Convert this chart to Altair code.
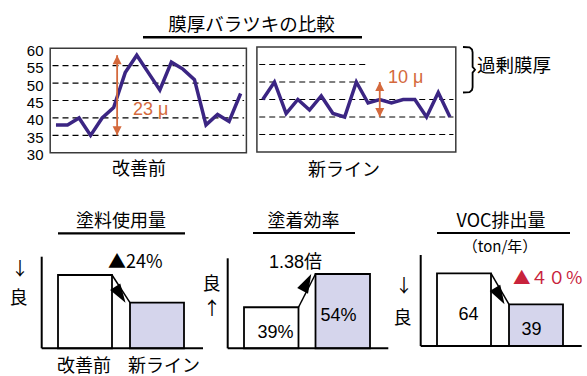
import math
import altair as alt
import pandas as pd

# ---------------- data ----------------
sample_idx = list(range(17))
thickness_before = [38, 38, 40, 35, 40, 43, 53, 58, 53, 48, 56, 54, 51, 38, 41, 39, 47]
thickness_after = [45, 50, 41, 45, 42, 46, 41, 40, 50, 44, 45, 44, 45, 45, 40, 47, 40]
y_tick_values = [30, 35, 40, 45, 50, 55, 60]
grid_values = [35, 40, 45, 50, 55]
panel_names = ["改善前", "新ライン"]
spread_before = [35, 58]   # 23 μ
spread_after = [40, 50]    # 10 μ
spread_labels = ["23 μ", "10 μ"]
excess_band = [47, 60]     # 過剰膜厚

bar_categories = ["改善前", "新ライン"]
paint_usage = [100, 76]            # ▲24%
transfer_efficiency = [39, 54]     # %
voc_emission = [64, 39]            # ton/年
efficiency_labels = ["39%", "54%"]
voc_labels = ["64", "39"]

# ---------------- styles ----------------
ORANGE = "#d4693c"
PURPLE = "#3b2583"
LAV = "#d5d5ec"
RED = "#c8233c"
JP = "Noto Sans CJK JP"
LAT = "Liberation Sans, Noto Sans CJK JP"
UP_HEAD = "M0,0L-1,2L1,2Z"
DOWN_HEAD = "M0,0L-1,-2L1,-2Z"
BAR_HEAD = "M0,0L-0.8,2.5L0.8,2.5Z"

layers = []


def text_layer(t, x, y, size=18, font=JP, color="black", align="center"):
    return alt.Chart(pd.DataFrame({"t": [t]})).mark_text(
        font=font, fontSize=size, color=color, align=align, baseline="middle"
    ).encode(text="t:N", x=alt.value(x), y=alt.value(y))


def rule_layer(x1, x2, y1, y2, width=2.0):
    return alt.Chart(pd.DataFrame({"k": [0]})).mark_rule(
        color="black", strokeWidth=width
    ).encode(x=alt.value(x1), x2=alt.value(x2), y=alt.value(y1), y2=alt.value(y2))


def line_panel(values, xrange, yrange, grid_right_ends, spread, spread_x):
    xs = alt.Scale(domain=[-0.5, 16.5], range=xrange, nice=False, zero=False)
    ys = alt.Scale(domain=[30, 60], range=yrange, nice=False, zero=False)

    def X(f):
        return alt.X(f, scale=xs, axis=None)

    def Y(f):
        return alt.Y(f, scale=ys, axis=None)

    out = []
    frame = pd.DataFrame({"x1": [-0.5], "x2": [16.5],
                          "y1": [y_tick_values[0]], "y2": [y_tick_values[-1]]})
    out.append(alt.Chart(frame).mark_rect(fill="white", stroke="#3a3a3a", strokeWidth=1.5)
               .encode(x=X("x1:Q"), x2="x2:Q", y=Y("y1:Q"), y2="y2:Q"))
    grid = pd.DataFrame({"lev": grid_values, "x1": -0.3, "x2": grid_right_ends})
    out.append(alt.Chart(grid).mark_rule(color="black", strokeWidth=1.2, strokeDash=[6, 4])
               .encode(x=X("x1:Q"), x2="x2:Q", y=Y("lev:Q")))
    line = pd.DataFrame({"i": sample_idx, "v": values})
    out.append(alt.Chart(line).mark_line(color=PURPLE, strokeWidth=3.5)
               .encode(x=X("i:Q"), y=Y("v:Q")))
    arr = pd.DataFrame({"i": [spread_x], "lo": [spread[0]], "hi": [spread[1]]})
    out.append(alt.Chart(arr).mark_rule(color=ORANGE, strokeWidth=1.8)
               .encode(x=X("i:Q"), y=Y("lo:Q"), y2="hi:Q"))
    out.append(alt.Chart(arr).mark_point(shape=UP_HEAD, size=81, filled=True, color=ORANGE, opacity=1)
               .encode(x=X("i:Q"), y=Y("hi:Q")))
    out.append(alt.Chart(arr).mark_point(shape=DOWN_HEAD, size=81, filled=True, color=ORANGE, opacity=1)
               .encode(x=X("i:Q"), y=Y("lo:Q")))
    return out, ys


# ---- top: line panels ----
pa, ysA = line_panel(thickness_before, [50.2, 246.4], [152.8, 48.2],
                     [16.3] * 5, spread_before, 5.3)
pb, ysB = line_panel(thickness_after, [256.9, 455.8], [152, 47],
                     [16.3, 16.3, 16.3, 9.0, 9.0], spread_after, 10)
layers += pa + pb

layers.append(alt.Chart(pd.DataFrame({"v": y_tick_values})).mark_text(
    font=LAT, fontSize=15, align="right", baseline="middle", dy=2.5
).encode(x=alt.value(43.5), y=alt.Y("v:Q", scale=ysA, axis=None), text="v:Q"))

layers.append(text_layer("膜厚バラツキの比較", 251.5, 25, size=18.5))
layers.append(rule_layer(143, 362, 37.3, 37.3, 2.5))
layers.append(text_layer(panel_names[0], 139, 170))
layers.append(text_layer(panel_names[1], 344, 170.5))
layers.append(text_layer(spread_labels[0], 133, 110, font=LAT, color=ORANGE, align="left"))
layers.append(text_layer(spread_labels[1], 388, 77.5, font=LAT, color=ORANGE, align="left"))

# bracket for 過剰膜厚
lo, hi = excess_band
mid = (lo + hi) / 2
bracket = pd.DataFrame({
    "k": list(range(11)),
    "bx": [0, 0.55, 0.75, 0.8, 0.8, 1.0, 0.8, 0.8, 0.75, 0.55, 0],
    "by": [hi, hi - 0.1, hi - 0.7, hi - 1.5, mid + 0.8, mid, mid - 0.8, lo + 1.5, lo + 0.7, lo + 0.1, lo],
})
layers.append(alt.Chart(bracket).mark_line(color="black", strokeWidth=1.8).encode(
    x=alt.X("bx:Q", scale=alt.Scale(domain=[0, 1], range=[463, 475]), axis=None),
    y=alt.Y("by:Q", scale=ysB, axis=None),
    order="k:Q",
))
layers.append(text_layer("過剰膜厚", 477, 65.5, size=18.5, align="left"))


# ---- bottom: bar panels ----
def band_geom(rng, n, pi):
    step = (rng[1] - rng[0]) / (n - pi)
    bw = step * (1 - pi)
    return [rng[0] + k * step for k in range(n)], bw


def lin(v, dom, rng):
    return rng[0] + (v - dom[0]) / (dom[1] - dom[0]) * (rng[1] - rng[0])


def bar_panel(values, xrange, pinner, ydom, yrange, labels=None):
    xs = alt.Scale(domain=bar_categories, range=xrange, paddingInner=pinner, paddingOuter=0)
    ys = alt.Scale(domain=ydom, range=yrange, nice=False, zero=False)
    starts, bw = band_geom(xrange, 2, pinner)
    # same band layout shifted by half a band, so that a point's centre sits on a band's left edge
    xs_edge = alt.Scale(domain=bar_categories, range=[xrange[0] - bw / 2, xrange[1] - bw / 2],
                        paddingInner=pinner, paddingOuter=0)
    df = pd.DataFrame({"c": bar_categories, "v": values, "base": ydom[0]})
    df["mid"] = (df["v"] + df["base"]) / 2
    out = []
    out.append(alt.Chart(df).mark_bar(stroke="black", strokeWidth=1.8).encode(
        x=alt.X("c:N", scale=xs, axis=None, sort=None),
        y=alt.Y("v:Q", scale=ys, axis=None),
        y2="base:Q",
        fill=alt.Fill("c:N", scale=alt.Scale(domain=bar_categories, range=["white", LAV]), legend=None),
    ))
    arr = pd.DataFrame({"a": [bar_categories[0]], "b": [bar_categories[1]],
                        "v1": [values[0]], "v2": [values[1]]})
    out.append(alt.Chart(arr).mark_rule(color="black", strokeWidth=1.5).encode(
        x=alt.X("a:N", scale=xs, axis=None, bandPosition=1),
        x2=alt.X2("b:N", bandPosition=0),
        y=alt.Y("v1:Q", scale=ys, axis=None),
        y2="v2:Q",
    ))
    x_from, x_to = starts[0] + bw, starts[1]
    y_from, y_to = lin(values[0], ydom, yrange), lin(values[1], ydom, yrange)
    ang = math.degrees(math.atan2(x_to - x_from, -(y_to - y_from))) % 360
    out.append(alt.Chart(arr).mark_point(shape=BAR_HEAD, size=230, filled=True, color="black",
                                         opacity=1, angle=ang).encode(
        x=alt.X("b:N", scale=xs_edge, axis=None),
        y=alt.Y("v2:Q", scale=ys, axis=None),
    ))
    if labels is not None:
        df["lab"] = labels
        out.append(alt.Chart(df).mark_text(font=LAT, fontSize=18, baseline="middle", dy=5).encode(
            x=alt.X("c:N", scale=xs, axis=None, sort=None),
            y=alt.Y("mid:Q", scale=ys, axis=None),
            text="lab:N",
        ))
    return out


layers += bar_panel(paint_usage, [58, 184], 0.25, [36.5, 100], [348.3, 275])
layers += bar_panel(transfer_efficiency, [244, 370], 0.238, [20.5, 54], [348.3, 274], efficiency_labels)
layers += bar_panel(voc_emission, [437, 563], 0.25, [5.4, 64], [346, 273.3], voc_labels)

# axes of bar panels
layers += [
    rule_layer(41.7, 41.7, 256.7, 348.3), rule_layer(41.7, 203, 348.3, 348.3),
    rule_layer(227.7, 227.7, 258.3, 348.3), rule_layer(227.7, 388.3, 348.3, 348.3),
    rule_layer(420.7, 420.7, 255, 346), rule_layer(420.7, 581.7, 346, 346),
]

# titles and underlines
layers += [
    text_layer("塗料使用量", 121, 222), rule_layer(58, 185, 233.3, 233.3, 2.2),
    text_layer("塗着効率", 303.5, 222), rule_layer(253, 355, 233, 233, 2.2),
    text_layer("VOC排出量", 501, 221.5), rule_layer(437, 570, 233, 233, 2.2),
    text_layer("（ton/年）", 500, 247, size=15),
]

# annotations
layers += [
    text_layer("▲24%", 108, 262.5, align="left"),
    text_layer("1.38倍", 295.5, 263, font=LAT),
    text_layer("▲４０％", 513, 279.3, size=17.5, color=RED, align="left"),
    text_layer("↓", 20, 270), text_layer("良", 18.5, 298.5),
    text_layer("良", 211.5, 284.5), text_layer("↑", 212, 310),
    text_layer("↓", 404, 287), text_layer("良", 402.5, 318.5),
    text_layer(bar_categories[0], 57, 366.5, align="left"),
    text_layer(bar_categories[1], 128, 366.5, align="left"),
]

chart = alt.layer(*layers).resolve_scale(
    x="independent", y="independent"
).properties(
    width=587, height=376, padding=0, background="white",
    autosize=alt.AutoSizeParams(type="none"),
).configure_view(stroke=None)

chart.save("out.html", embed_options={"renderer": "svg", "actions": False})
